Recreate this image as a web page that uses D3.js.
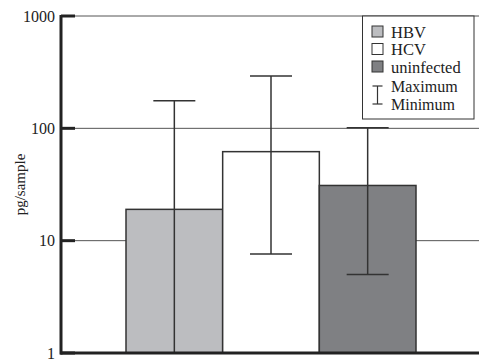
<!DOCTYPE html>
<html>
<head>
<meta charset="utf-8">
<script src="https://cdn.jsdelivr.net/npm/d3@7"></script>
<style>
  body { margin: 0; background: #fff; }
  svg text { font-family: "Liberation Serif", "DejaVu Serif", serif; fill: #222; }
</style>
</head>
<body>
<svg id="chart" width="479" height="362"></svg>
<script>
// data
var groups = ["HBV", "HCV", "uninfected"];
var means = [19, 62, 31];
var maxes = [176, 293, 101];
var mins = [1, 7.6, 5.0];
var fills = ["#bcbdc0", "#ffffff", "#7f8083"];
var yTicks = [1, 10, 100, 1000];

var svg = d3.select("#chart");

var y = d3.scaleLog().domain([1, 1000]).range([353, 16]);
var x = d3.scaleBand().domain(groups).range([126, 416]).padding(0);

// gridlines
svg.append("g")
    .selectAll("line")
    .data(yTicks.slice(1))
    .enter().append("line")
    .attr("x1", 61).attr("x2", 479)
    .attr("y1", d => y(d)).attr("y2", d => y(d))
    .attr("stroke", "#555").attr("stroke-width", 1);

// bars
svg.append("g")
    .selectAll("rect")
    .data(groups)
    .enter().append("rect")
    .attr("x", d => x(d))
    .attr("y", (d, i) => y(means[i]))
    .attr("width", x.bandwidth())
    .attr("height", (d, i) => y(1) - y(means[i]))
    .attr("fill", (d, i) => fills[i])
    .attr("stroke", "#333")
    .attr("stroke-width", 1.5);

// error bars (min / max)
var err = svg.append("g").attr("stroke", "#333").attr("stroke-width", 1.5);
groups.forEach(function (g, i) {
    var cx = x(g) + x.bandwidth() / 2;
    err.append("line").attr("x1", cx).attr("x2", cx)
        .attr("y1", y(maxes[i])).attr("y2", y(mins[i]));
    err.append("line").attr("x1", cx - 21).attr("x2", cx + 21)
        .attr("y1", y(maxes[i])).attr("y2", y(maxes[i]));
    if (mins[i] > 1) {
        err.append("line").attr("x1", cx - 21).attr("x2", cx + 21)
            .attr("y1", y(mins[i])).attr("y2", y(mins[i]));
    }
});

// y axis
var yAxis = svg.append("g")
    .attr("transform", "translate(61,0)")
    .call(d3.axisLeft(y).tickValues(yTicks).tickFormat(d3.format("d")).tickSize(0).tickPadding(6));
yAxis.select(".domain").remove();
yAxis.selectAll("text").style("font-size", "16px");

svg.append("g")
    .selectAll("line")
    .data(yTicks)
    .enter().append("line")
    .attr("x1", 61).attr("x2", 75)
    .attr("y1", d => y(d)).attr("y2", d => y(d))
    .attr("stroke", "#222").attr("stroke-width", 3);

svg.append("line")
    .attr("x1", 61).attr("x2", 61)
    .attr("y1", y(1000) - 1).attr("y2", y(1) + 1.5)
    .attr("stroke", "#222").attr("stroke-width", 3);
svg.append("line")
    .attr("x1", 60).attr("x2", 479)
    .attr("y1", y(1)).attr("y2", y(1))
    .attr("stroke", "#222").attr("stroke-width", 3);

svg.append("text")
    .attr("transform", "translate(20," + ((y(1) + y(1000)) / 2) + ") rotate(-90)")
    .attr("text-anchor", "middle")
    .attr("dy", "0.35em")
    .style("font-size", "15px")
    .text("pg/sample");

// legend
var leg = svg.append("g");
leg.append("rect")
    .attr("x", 362.5).attr("y", 16).attr("width", 111.5).attr("height", 103)
    .attr("fill", "#fff").attr("stroke", "#333").attr("stroke-width", 1);
groups.forEach(function (g, i) {
    var ly = 32 + i * 17.5;
    leg.append("rect")
        .attr("x", 372).attr("y", ly - 6).attr("width", 11).attr("height", 11)
        .attr("fill", fills[i]).attr("stroke", "#333").attr("stroke-width", 1);
    leg.append("text")
        .attr("x", 391).attr("y", ly).attr("dy", "0.35em")
        .style("font-size", "16.5px")
        .text(g);
});
var ex = 377.5;
leg.append("line").attr("x1", ex).attr("x2", ex).attr("y1", 86).attr("y2", 104).attr("stroke", "#333").attr("stroke-width", 1.2);
leg.append("line").attr("x1", ex - 5).attr("x2", ex + 5).attr("y1", 86).attr("y2", 86).attr("stroke", "#333").attr("stroke-width", 1.2);
leg.append("line").attr("x1", ex - 5).attr("x2", ex + 5).attr("y1", 104).attr("y2", 104).attr("stroke", "#333").attr("stroke-width", 1.2);
leg.append("text").attr("x", 391).attr("y", 86).attr("dy", "0.35em").style("font-size", "16px").text("Maximum");
leg.append("text").attr("x", 391).attr("y", 104).attr("dy", "0.35em").style("font-size", "16px").text("Minimum");
</script>
</body>
</html>
